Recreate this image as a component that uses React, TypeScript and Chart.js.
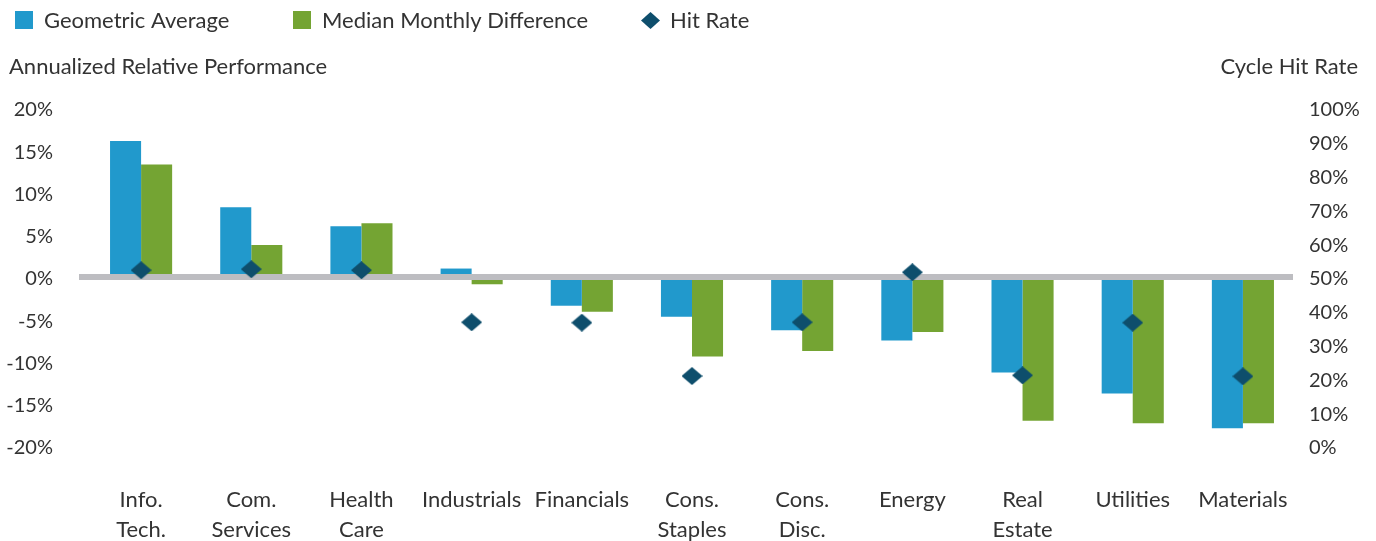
import React, { useEffect, useRef } from "react";
import { Chart, registerables } from "chart.js";

Chart.register(...registerables);

const categories: (string | string[])[] = [
  ["Info.", "Tech."],
  ["Com.", "Services"],
  ["Health", "Care"],
  "Industrials",
  "Financials",
  ["Cons.", "Staples"],
  ["Cons.", "Disc."],
  "Energy",
  ["Real", "Estate"],
  "Utilities",
  "Materials",
];
const geometricAverage = [16.1, 8.25, 6.0, 1.0, -3.4, -4.7, -6.3, -7.5, -11.3, -13.8, -17.9];
const medianMonthlyDifference = [13.3, 3.8, 6.35, -0.86, -4.1, -9.4, -8.75, -6.5, -17.0, -17.3, -17.3];
const hitRate = [52.0, 52.3, 52.0, 36.6, 36.5, 20.7, 36.6, 51.4, 20.9, 36.5, 20.6];

const leftAxis = { min: -20, max: 20, step: 5 };
const rightAxis = { min: 0, max: 100, step: 10 };
const legendLabels = ["Geometric Average", "Median Monthly Difference", "Hit Rate"];
const leftAxisTitle = "Annualized Relative Performance";
const rightAxisTitle = "Cycle Hit Rate";

const BLUE = "#2199cc";
const GREEN = "#74a433";
const NAVY = "#0e4e6c";
const GRAY_LINE = "#bdbdc1";
const TEXT = "#333333";
const FONT_FAMILY = "Lato, 'Open Sans', sans-serif";
const TICK_SIZE = 20;
const TEXT_SIZE = 22;

function makeDiamond(w: number, h: number, color: string): HTMLCanvasElement {
  const c = document.createElement("canvas");
  c.width = w;
  c.height = h;
  const g = c.getContext("2d")!;
  g.fillStyle = color;
  g.beginPath();
  g.moveTo(0, h / 2);
  g.lineTo(w / 2, 0);
  g.lineTo(w, h / 2);
  g.lineTo(w / 2, h);
  g.closePath();
  g.fill();
  return c;
}

export default function App() {
  const ref = useRef<HTMLCanvasElement | null>(null);

  useEffect(() => {
    if (!ref.current) return;
    const diamond = makeDiamond(21, 18, NAVY);

    const zeroLine = {
      id: "zeroLine",
      beforeDatasetDraw(chart: any, args: any) {
        if (args.index !== 2) return;
        const { ctx, chartArea } = chart;
        const y = chart.scales.y.getPixelForValue(0);
        ctx.save();
        ctx.fillStyle = GRAY_LINE;
        ctx.fillRect(chartArea.left - 7, y - 3, chartArea.right - chartArea.left + 2, 6);
        ctx.restore();
      },
    };

    const overlayText = {
      id: "overlayText",
      afterDraw(chart: any) {
        const { ctx } = chart;
        ctx.save();
        ctx.font = `${TEXT_SIZE}px ${FONT_FAMILY}`;
        ctx.textBaseline = "middle";
        ctx.textAlign = "left";
        const ly = 21;
        ctx.fillStyle = BLUE;
        ctx.fillRect(15, 11, 18, 18);
        ctx.fillStyle = GREEN;
        ctx.fillRect(293, 11, 18, 18);
        ctx.drawImage(makeDiamond(19, 17, NAVY), 641, 12);
        ctx.fillStyle = TEXT;
        ctx.fillText(legendLabels[0], 44, ly);
        ctx.fillText(legendLabels[1], 322, ly);
        ctx.fillText(legendLabels[2], 670, ly);
        ctx.fillText(leftAxisTitle, 9, 67);
        ctx.textAlign = "right";
        ctx.fillText(rightAxisTitle, 1358, 67);
        ctx.restore();
      },
    };

    const tickFont = { family: FONT_FAMILY, size: TICK_SIZE, lineHeight: 1.5 };
    const catFont = { family: FONT_FAMILY, size: TEXT_SIZE, lineHeight: 30 / 22 };

    const chart = new Chart(ref.current, {
      type: "bar",
      data: {
        labels: categories,
        datasets: [
          {
            type: "bar",
            label: legendLabels[0],
            data: geometricAverage,
            backgroundColor: BLUE,
            yAxisID: "y",
            order: 1,
            categoryPercentage: 0.5636,
            barPercentage: 1,
          },
          {
            type: "bar",
            label: legendLabels[1],
            data: medianMonthlyDifference,
            backgroundColor: GREEN,
            yAxisID: "y",
            order: 1,
            categoryPercentage: 0.5636,
            barPercentage: 1,
          },
          {
            type: "line",
            label: legendLabels[2],
            data: hitRate,
            yAxisID: "y1",
            showLine: false,
            pointStyle: diamond,
            pointRadius: 10,
            backgroundColor: NAVY,
            borderColor: NAVY,
            order: 0,
          },
        ],
      } as any,
      options: {
        responsive: false,
        maintainAspectRatio: false,
        animation: false,
        events: [],
        layout: { padding: { top: 108, left: 0, right: 0, bottom: 0 } },
        plugins: {
          legend: { display: false },
          tooltip: { enabled: false },
          title: { display: false },
        },
        scales: {
          x: {
            grid: { display: false, drawTicks: false },
            border: { display: false },
            ticks: {
              color: TEXT,
              font: catFont,
              padding: 39,
              maxRotation: 0,
              autoSkip: false,
            },
            afterFit(scale: any) {
              scale.height = 95;
            },
          },
          y: {
            position: "left",
            min: leftAxis.min,
            max: leftAxis.max,
            grid: { display: false, drawTicks: false },
            border: { display: false },
            ticks: {
              stepSize: leftAxis.step,
              color: TEXT,
              font: tickFont,
              padding: 33,
              labelOffset: 2,
              callback: (v: any) => `${v}%`,
            },
            afterFit(scale: any) {
              scale.width = 86;
            },
          },
          y1: {
            position: "right",
            min: rightAxis.min,
            max: rightAxis.max,
            grid: { display: false, drawTicks: false },
            border: { display: false },
            ticks: {
              stepSize: rightAxis.step,
              color: TEXT,
              font: tickFont,
              padding: 11,
              labelOffset: 2,
              callback: (v: any) => `${v}%`,
            },
            afterFit(scale: any) {
              scale.width = 78;
            },
          },
        },
      } as any,
      plugins: [zeroLine, overlayText],
    });

    return () => chart.destroy();
  }, []);

  return (
    <div style={{ position: "absolute", left: 0, top: 0, width: 1376, height: 541, background: "#fff" }}>
      <canvas ref={ref} width={1376} height={541} style={{ width: 1376, height: 541, display: "block" }} />
    </div>
  );
}
